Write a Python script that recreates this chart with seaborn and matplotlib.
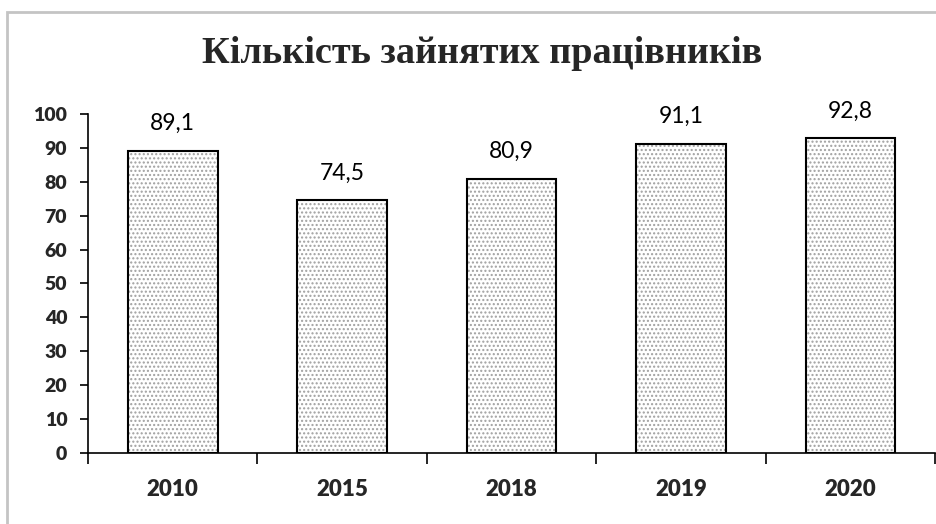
import matplotlib
matplotlib.use('Agg')
import matplotlib.pyplot as plt
import seaborn as sns
import pandas as pd
from matplotlib.patches import Rectangle

years = ['2010', '2015', '2018', '2019', '2020']
workers = [89.1, 74.5, 80.9, 91.1, 92.8]
y_ticks = [0, 10, 20, 30, 40, 50, 60, 70, 80, 90, 100]

df = pd.DataFrame({'year': years, 'workers': workers})

sns.set_theme(style='white')
plt.rcParams['font.family'] = ['Lato', 'DejaVu Sans']
plt.rcParams['hatch.linewidth'] = 1.0

fig = plt.figure(figsize=(9.37, 5.24), dpi=100)
ax = fig.add_axes([0.094, 0.1355, 0.904, 0.647])

# dotted fill, then black outline on top
sns.barplot(data=df, x='year', y='workers', ax=ax, color='white',
            edgecolor='#a0a0a0', hatch='....', linewidth=0, width=0.53)
sns.barplot(data=df, x='year', y='workers', ax=ax, fill=False,
            edgecolor='black', linewidth=1.5, width=0.53)

for i, v in enumerate(workers):
    ax.text(i, v + 5, f'{v:.1f}'.replace('.', ','), ha='center', va='bottom',
            fontsize=16.5, color='black')

ax.set_xlim(-0.5, len(years) - 0.5)
ax.set_ylim(0, 100)
ax.set_xticks(range(len(years)))
ax.set_xticklabels(years, fontsize=16, fontweight='heavy')
ax.set_yticks(y_ticks)
ax.set_yticklabels([str(t) for t in y_ticks], fontsize=14, fontweight='heavy')
ax.set_xticks([i - 0.5 for i in range(len(years) + 1)], minor=True)
ax.tick_params(axis='x', which='major', bottom=True, length=0, pad=19)
ax.tick_params(axis='x', which='minor', bottom=True, length=8, width=1.2,
               direction='out', color='black')
ax.tick_params(axis='y', left=True, length=6, width=1.2, direction='out',
               color='black', pad=9)
ax.set_xlabel('')
ax.set_ylabel('')

for s in ['top', 'right']:
    ax.spines[s].set_visible(False)
for s in ['left', 'bottom']:
    ax.spines[s].set_color('black')
    ax.spines[s].set_linewidth(1.2)

fig.text(0.515, 0.897, 'Кількість зайнятих працівників', ha='center', va='center',
         fontsize=27.5, fontweight='bold', family=['Liberation Serif', 'DejaVu Serif'])

# chart frame
fig.patches.append(Rectangle((7 / 937, -0.1), 1.2, 1 - 12 / 524 + 0.1,
                             transform=fig.transFigure, fill=False,
                             edgecolor='#c4c4c4', linewidth=2))

fig.savefig('out.png', dpi=100)
